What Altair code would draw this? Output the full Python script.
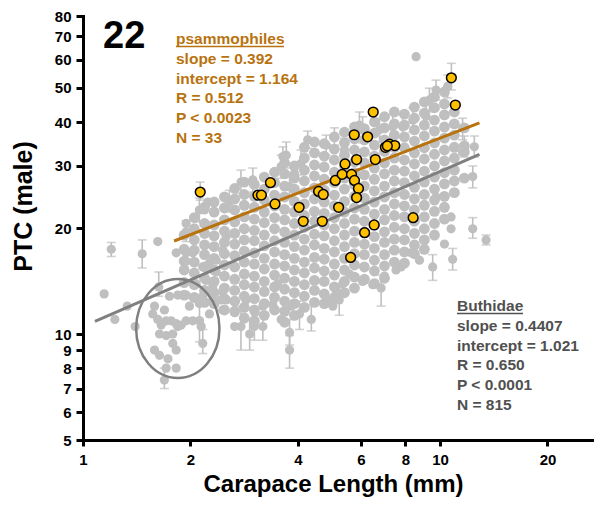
import altair as alt
import pandas as pd

FONT = "Liberation Sans"
GRAY_PT = "#bfbfbf"
ORANGE = "#b8730f"
DARK = "#505050"

# ---------------- data ----------------
# Buthidae: dense core, one carapace-length column per list
core_cl = [1.92, 2.05, 2.19, 2.33, 2.49, 2.66, 2.83, 3.02, 3.22, 3.44, 3.67, 3.91,
           4.17, 4.45, 4.74, 5.06, 5.40, 5.76, 6.14, 6.55, 6.99, 7.45, 7.95, 8.48,
           9.04, 9.65, 10.29, 10.97, 11.70]
core_ptc = [
    [19.1, 17.4, 16.1, 15.2, 14.0, 12.9],
    [21.4, 19.9, 18.5, 17.3, 16.0, 14.9, 13.8, 12.7],
    [22.9, 20.6, 19.3, 17.9, 16.8, 15.5, 14.4, 13.3, 12.3],
    [23.7, 22.2, 20.4, 19.0, 17.7, 16.4, 15.2, 14.1, 13.1, 12.2],
    [24.5, 22.8, 21.1, 19.6, 18.2, 16.9, 15.7, 14.6, 13.5, 12.6, 11.7],
    [25.9, 24.2, 22.5, 20.8, 19.3, 18.0, 16.7, 15.5, 14.3, 13.3, 12.4, 11.6],
    [27.0, 24.9, 23.2, 21.5, 19.9, 18.5, 17.2, 16.0, 14.8, 13.8, 12.8, 11.9, 11.1],
    [26.6, 24.6, 22.9, 21.2, 19.7, 18.4, 17.0, 15.8, 14.6, 13.6, 12.6, 11.7, 10.9],
    [27.9, 25.8, 24.0, 22.2, 20.7, 19.1, 17.8, 16.4, 15.3, 14.1, 13.2, 12.2, 11.3],
    [28.8, 26.9, 24.8, 23.1, 21.4, 19.9, 18.4, 17.1, 15.8, 14.7, 13.6, 12.7, 11.7],
    [30.6, 28.5, 26.3, 24.5, 22.6, 21.1, 19.5, 18.2, 16.8, 15.6, 14.4, 13.4, 12.4, 11.6, 10.8],
    [30.0, 27.7, 25.8, 23.8, 22.2, 20.6, 19.1, 17.7, 16.4, 15.2, 14.1, 13.1, 12.2, 11.3],
    [33.9, 31.6, 29.2, 27.2, 25.2, 23.4, 21.7, 20.1, 18.6, 17.3, 16.0, 14.9, 13.8, 12.8, 11.9],
    [35.1, 32.7, 30.2, 28.1, 26.0, 24.2, 22.3, 20.9, 19.2, 17.9, 16.5, 15.4, 14.2, 13.3, 12.3],
    [34.7, 32.0, 29.8, 27.5, 25.6, 23.7, 22.0, 20.4, 19.0, 17.5, 16.3, 15.1, 14.1, 13.0, 12.2],
    [36.3, 33.5, 31.2, 28.8, 26.9, 24.8, 23.1, 21.4, 19.9, 18.4, 17.1, 15.8, 14.7, 13.6, 12.7],
    [37.4, 34.9, 32.2, 30.0, 27.7, 25.8, 23.8, 22.2, 20.6, 19.1, 17.7, 16.4, 15.2, 14.1, 13.1],
    [38.7, 35.8, 33.3, 30.8, 28.7, 26.5, 24.6, 22.8, 21.2, 19.6, 18.2, 16.9, 15.7, 14.5, 13.5],
    [38.3, 35.6, 32.9, 30.6, 28.3, 26.3, 24.3, 22.6, 20.9, 19.5, 18.0, 16.8, 15.5, 14.3],
    [40.0, 37.2, 34.4, 32.0, 29.6, 27.5, 25.5, 23.7, 21.9, 20.4, 18.9, 17.5, 16.2, 15.1, 13.9],
    [41.4, 38.5, 35.6, 33.0, 30.6, 28.5, 26.3, 24.5, 22.6, 21.1, 19.5, 18.2, 16.8, 15.6, 14.4],
    [42.7, 39.5, 36.7, 33.9, 31.6, 29.2, 27.2, 25.2, 23.4, 21.7, 20.1, 18.6, 17.3, 16.0],
    [42.1, 39.2, 36.3, 33.8, 31.2, 29.0, 26.9, 24.9, 23.1, 21.5, 19.9, 18.5, 17.1, 15.9],
    [44.1, 41.0, 38.0, 35.3, 32.7, 30.4, 28.1, 26.1, 24.2, 22.5, 20.9, 19.3, 17.9, 16.9],
    [45.6, 42.4, 39.2, 36.5, 33.8, 31.4, 29.0, 27.0, 24.9, 23.2, 21.5, 19.9, 18.5, 17.4],
    [47.1, 43.9, 40.5, 37.7, 34.9, 32.4, 30.0, 27.9, 25.8, 24.0, 22.3, 20.6, 19.1],
    [48.7, 45.0, 41.9, 38.7, 36.0, 33.3, 31.0, 28.7, 26.7, 24.6, 22.9, 21.2],
    [42.7, 39.5, 36.7, 33.9, 31.6, 29.2, 27.2, 25.2],
    [38.5, 34.2, 32.9, 27.7],
]

# Buthidae: scattered points around the core
extra_cl = [1.146, 1.228, 1.33, 1.40, 1.62,
            1.586, 1.568, 1.62, 1.656, 1.71, 1.766, 1.824, 1.883, 1.945, 2.03, 2.118, 2.143,
            1.638, 1.71, 1.784, 1.843, 1.784, 1.824, 1.586, 1.638, 1.73, 1.71, 1.824,
            1.945, 1.843, 1.747, 1.691, 1.987,
            1.824, 1.945, 2.03, 1.945, 2.165, 2.261, 2.361, 2.361, 2.213, 2.31, 2.463,
            2.438, 2.31, 2.165, 2.118, 2.261, 2.463, 2.075, 2.463, 2.518, 2.19,
            10.74, 10.74, 10.29, 9.75, 8.76, 8.30, 7.78, 7.53, 6.99, 6.48, 6.07, 5.58,
            5.34, 5.12, 5.01, 4.80, 3.83, 3.59, 3.51, 3.40, 3.19, 3.03, 2.66, 2.66,
            2.86, 2.52, 4.85, 11.57, 1.945, 2.236, 3.91, 8.57]
extra_ptc = [13.0, 11.0, 12.0, 10.5, 18.3,
             12.0, 11.4, 11.0, 10.6, 10.9, 10.9, 10.7, 10.6, 10.9, 10.9, 10.9, 10.5,
             10.0, 9.9, 10.0, 10.5, 9.4, 9.0, 9.0, 8.7, 8.5, 8.0, 8.0,
             12.9, 12.9, 12.8, 11.7, 12.0,
             17.0, 17.0, 17.0, 16.1, 15.5, 15.9, 16.2, 15.0, 14.2, 13.7, 13.2,
             12.5, 12.5, 12.8, 12.2, 11.4, 11.7, 13.9, 17.3, 18.9, 22.5,
             21.5, 19.9, 18.0, 24.5, 16.2, 17.0, 15.5, 15.2, 14.6, 13.8, 14.1, 14.8,
             13.9, 13.3, 12.0, 12.2, 12.0, 11.0, 13.9, 12.1, 12.0, 11.5, 10.5, 11.5,
             12.5, 12.5, 12.5, 32.8, 20.6, 23.7, 28.6, 61.3]

# Species means with error bars (mean, lower, upper)
eb_cl = [1.20, 1.465, 1.63, 2.165, 1.69, 1.945, 2.118, 2.57, 2.77, 2.99, 3.59, 3.63,
         3.71, 3.79, 4.08, 4.26, 4.80, 5.06, 5.40, 5.95, 6.07, 6.77, 7.37, 7.86,
         8.39, 9.14, 9.34, 9.75, 10.51, 11.57, 11.70, 12.48, 12.35, 12.35, 13.46,
         10.85, 9.54, 6.84, 5.22, 4.36, 4.04, 3.79, 3.79, 3.19, 3.02, 2.93, 2.77,
         2.12, 2.13, 10.76]
eb_ptc = [17.4, 16.9, 13.6, 9.4, 7.4, 19.5, 22.5, 23.7, 27.0, 27.4, 29.9, 31.9,
          32.2, 26.2, 30.5, 35.6, 34.4, 36.2, 33.3, 39.2, 38.0, 38.0, 38.8, 38.8,
          40.5, 41.5, 46.2, 49.3, 50.5, 38.4, 34.0, 34.0, 28.0, 19.9, 18.5,
          16.3, 15.5, 13.5, 12.5, 11.0, 11.4, 10.1, 9.0, 10.5, 10.5, 10.0, 10.5,
          10.9, 25.3, 53.4]
eb_lo = [16.6, 15.4, 12.8, 8.8, 7.0, 18.3, 20.8, 22.2, 25.1, 25.3, 27.7, 29.9,
         29.6, 24.3, 28.3, 33.7, 32.2, 34.4, 31.2, 36.0, 34.9, 35.1, 36.0, 36.0,
         37.4, 38.5, 42.7, 46.2, 46.8, 35.6, 31.8, 31.8, 26.0, 18.7, 17.9,
         15.2, 14.2, 12.0, 11.3, 10.2, 10.3, 9.3, 8.0, 9.6, 9.6, 9.0, 9.0,
         9.5, 24.0, 49.3]
eb_hi = [18.2, 18.5, 15.0, 10.3, 8.0, 21.0, 24.3, 25.6, 29.2, 29.6, 32.2, 34.0,
         35.1, 28.3, 33.3, 37.7, 36.7, 38.5, 36.0, 42.7, 41.4, 41.0, 41.9, 41.9,
         43.9, 44.7, 49.9, 52.6, 54.4, 41.0, 36.5, 36.5, 30.0, 21.4, 19.1,
         17.5, 16.8, 14.7, 13.6, 12.1, 12.4, 11.0, 9.9, 11.5, 11.5, 11.0, 12.0,
         12.5, 27.0, 58.7]

# Psammophiles (N = 33)
psam_cl = [2.13, 3.09, 3.16, 3.35, 3.45, 4.03, 4.14, 4.57, 4.71, 4.68, 5.09, 5.20,
           5.32, 5.42, 5.65, 5.76, 5.91, 5.84, 5.62, 5.75, 5.84, 6.15, 6.27, 6.50,
           6.54, 6.59, 7.03, 7.22, 7.47, 8.41, 10.76, 11.04, 7.12]
psam_ptc = [25.3, 24.8, 24.8, 26.9, 23.4, 22.9, 20.9, 25.4, 24.9, 20.9, 27.3, 22.9,
            28.4, 30.4, 28.4, 27.3, 25.9, 24.4, 16.5, 36.8, 31.3, 19.4, 36.3, 42.7,
            20.4, 31.3, 33.9, 34.6, 34.3, 21.4, 53.4, 44.7, 34.2]

# Log-log regressions: log10(PTC) = intercept + slope * log10(CL)
buth_slope, buth_intercept = 0.4407, 1.021
psam_slope, psam_intercept = 0.392, 1.164
buth_span = [1.08, 12.9]
psam_span = [1.80, 12.9]

# Circled cluster of small species
circle_cl, circle_ptc = 1.843, 10.37

x_ticks = [1, 2, 4, 6, 8, 10, 20]
y_ticks = [5, 6, 7, 8, 9, 10, 20, 30, 40, 50, 60, 70, 80]

# ---------------- tables ----------------
core = pd.DataFrame([(c, p) for c, col in zip(core_cl, core_ptc) for p in col],
                    columns=["cl", "ptc"])
scatter = pd.DataFrame(list(zip(extra_cl, extra_ptc)) + list(zip(eb_cl, eb_ptc)),
                       columns=["cl", "ptc"])
errs = pd.DataFrame({"cl": eb_cl, "ptc": eb_ptc, "lo": eb_lo, "hi": eb_hi})
psam = pd.DataFrame({"cl": psam_cl, "ptc": psam_ptc})


def fit_line(span, slope, intercept):
    return pd.DataFrame({"cl": span,
                         "ptc": [10 ** intercept * c ** slope for c in span]})


buth_line = fit_line(buth_span, buth_slope, buth_intercept)
psam_line = fit_line(psam_span, psam_slope, psam_intercept)

# ---------------- encodings ----------------
xscale = alt.Scale(type="log", domain=[1, 27], nice=False)
yscale = alt.Scale(type="log", domain=[5, 80], nice=False)
common_axis = dict(grid=False, domainColor="black", domainWidth=3, domainCap="square",
                   tickColor="black", tickWidth=3, labelFont=FONT,
                   labelFontWeight="bold", labelFontSize=15, labelColor="black",
                   titleFont=FONT, titleFontWeight="bold", titleColor="black",
                   labelOverlap=False, labelFlush=False, format="d")
xaxis = alt.Axis(values=x_ticks, tickSize=6, labelPadding=6, titleFontSize=24,
                 titleX=250, titleAlign="center", titlePadding=5, **common_axis)
yaxis = alt.Axis(values=y_ticks, tickSize=7, labelPadding=5, titleFontSize=25,
                 titleX=-60, titleY=190, titleAngle=-90, titleAlign="center",
                 titleBaseline="middle", **common_axis)


def X(field="cl"):
    return alt.X(f"{field}:Q", scale=xscale, axis=xaxis, title="Carapace Length (mm)")


def Y(field="ptc"):
    return alt.Y(f"{field}:Q", scale=yscale, axis=yaxis, title="PTC (male)")


err_rules = alt.Chart(errs).mark_rule(color=GRAY_PT, strokeWidth=1.6).encode(
    x=X(), y=Y("lo"), y2="hi")
err_lo = alt.Chart(errs).mark_tick(orient="horizontal", color=GRAY_PT, size=9,
                                   thickness=1.6).encode(x=X(), y=Y("lo"))
err_hi = alt.Chart(errs).mark_tick(orient="horizontal", color=GRAY_PT, size=9,
                                   thickness=1.6).encode(x=X(), y=Y("hi"))
core_pts = alt.Chart(core).mark_circle(color=GRAY_PT, opacity=1, size=118).encode(
    x=X(), y=Y())
scatter_pts = alt.Chart(scatter).mark_circle(color=GRAY_PT, opacity=1, size=85).encode(
    x=X(), y=Y())
buth_fit = alt.Chart(buth_line).mark_line(color="#808080", strokeWidth=3).encode(
    x=X(), y=Y())
psam_fit = alt.Chart(psam_line).mark_line(color=ORANGE, strokeWidth=3).encode(
    x=X(), y=Y())

ellipse_path = ("M 0.842 0 C 0.842 0.5523 0.465 1 0 1 C -0.465 1 -0.842 0.5523 -0.842 0 "
                "C -0.842 -0.5523 -0.465 -1 0 -1 C 0.465 -1 0.842 -0.5523 0.842 0 Z")
ellipse = alt.Chart(pd.DataFrame({"cl": [circle_cl], "ptc": [circle_ptc]})).mark_point(
    shape=ellipse_path, size=9800, filled=False, color="#7f7f7f", strokeWidth=2.5,
    opacity=1).encode(x=X(), y=Y())

psam_pts = alt.Chart(psam).mark_point(shape="circle", filled=True, fill="#ffc000",
                                      stroke="black", strokeWidth=1.5, size=95,
                                      opacity=1).encode(x=X(), y=Y())

one = pd.DataFrame({"k": [0]})


def label(lines, x, y, size, color, line_height=19.8):
    return alt.Chart(one).mark_text(
        text=lines, align="left", baseline="alphabetic", font=FONT, fontWeight="bold",
        fontSize=size, color=color, lineHeight=line_height).encode(
        x=alt.value(x), y=alt.value(y))


def underline(x1, x2, y, color):
    return alt.Chart(one).mark_rule(color=color, strokeWidth=1.5).encode(
        x=alt.value(x1), x2=alt.value(x2), y=alt.value(y))


panel = label(["22"], 20, 32, 38, "black")
psam_txt = label(["psammophiles", "slope = 0.392", "intercept = 1.164", "R = 0.512",
                  "P < 0.0023", "N = 33"], 93, 28, 15.5, ORANGE)
psam_ul = underline(93, 201, 30.5, ORANGE)
buth_txt = label(["Buthidae", "slope = 0.4407", "intercept = 1.021", "R = 0.650",
                  "P < 0.0001", "N = 815"], 374, 295, 15.5, DARK)
buth_ul = underline(374, 440, 297.5, DARK)

chart = alt.layer(
    err_rules, err_lo, err_hi, core_pts, scatter_pts, buth_fit, psam_fit, ellipse,
    psam_pts, panel, psam_txt, psam_ul, buth_txt, buth_ul,
).properties(
    width=511, height=424,
    autosize=alt.AutoSizeParams(type="none"),
    padding={"left": 83, "top": 16, "right": 0, "bottom": 66},
    background="white",
).configure_view(stroke=None)

chart.save("out.html", embed_options={"renderer": "svg", "actions": False})
